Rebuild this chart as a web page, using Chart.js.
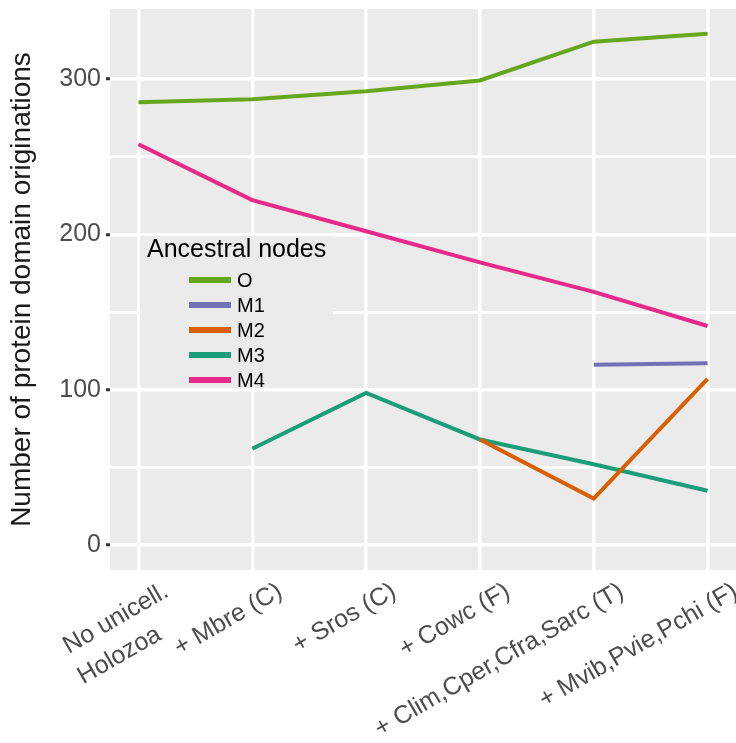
<!DOCTYPE html>
<html>
<head>
<meta charset="utf-8">
<script src="https://cdn.jsdelivr.net/npm/chart.js@4"></script>
<style>
  html, body { margin: 0; padding: 0; background: #fff; }
  canvas { display: block; }
</style>
</head>
<body>
<canvas id="chart" width="736" height="743"></canvas>
<script>
const categories = [['No unicell.', 'Holozoa    '], '+ Mbre (C)', '+ Sros (C)', '+ Cowc (F)', '+ Clim,Cper,Cfra,Sarc (T)', '+ Mvib,Pvie,Pchi (F)'];
const valuesO  = [285, 287, 292, 299, 324, 329];
const valuesM1 = [null, null, null, null, 116, 117];
const valuesM2 = [null, null, null, 68, 30, 107];
const valuesM3 = [null, 62, 98, 68, 52, 35];
const valuesM4 = [258, 222, 202, 182, 163, 141];
const yTicks = [0, 50, 100, 150, 200, 250, 300];
const yMajor = [0, 100, 200, 300];

const FONT = '"Liberation Sans", Arial, sans-serif';

function series(values) {
    return values.map((v, i) => ({ x: i, y: v }));
}

function line(label, values, color, order) {
    return {
        label: label,
        data: series(values),
        borderColor: color,
        backgroundColor: color,
        borderWidth: 4,
        pointRadius: 0,
        fill: false,
        tension: 0,
        order: order
    };
}

// grey ggplot panel
const panelBackground = {
    id: 'panelBackground',
    beforeDraw(chart) {
        const { ctx, chartArea: a } = chart;
        ctx.save();
        ctx.fillStyle = '#ebebeb';
        ctx.fillRect(a.left, a.top, a.right - a.left, a.bottom - a.top);
        ctx.restore();
    }
};

// legend drawn inside the panel
const insideLegend = {
    id: 'insideLegend',
    afterDraw(chart) {
        const ctx = chart.ctx;
        ctx.save();
        ctx.fillStyle = '#ebebeb';
        ctx.fillRect(140, 236, 193, 151);
        ctx.fillStyle = '#000';
        ctx.font = '25px ' + FONT;
        ctx.textBaseline = 'alphabetic';
        ctx.fillText('Ancestral nodes', 147, 257);
        ctx.font = '20px ' + FONT;
        ctx.textBaseline = 'middle';
        chart.data.datasets.forEach((ds, i) => {
            const y = 280 + i * 25;
            ctx.strokeStyle = ds.borderColor;
            ctx.lineWidth = 6;
            ctx.beginPath();
            ctx.moveTo(189, y);
            ctx.lineTo(231, y);
            ctx.stroke();
            ctx.fillText(ds.label, 237, y + 1);
        });
        ctx.restore();
    }
};

new Chart(document.getElementById('chart'), {
    type: 'line',
    data: {
        datasets: [
            line('O', valuesO, '#66a61e', 5),
            line('M1', valuesM1, '#7570b3', 4),
            line('M2', valuesM2, '#d95f02', 1),
            line('M3', valuesM3, '#1b9e77', 2),
            line('M4', valuesM4, '#e7298a', 3)
        ]
    },
    options: {
        responsive: false,
        animation: false,
        layout: { padding: { top: 9, right: 0, left: 0, bottom: 0 } },
        plugins: {
            legend: { display: false },
            tooltip: { enabled: false }
        },
        scales: {
            x: {
                type: 'linear',
                min: -0.25,
                max: 5.25,
                afterBuildTicks: s => { s.ticks = categories.map((c, i) => ({ value: i })); },
                afterFit: s => { s.height = 173; s.paddingLeft = 0; s.paddingRight = 0; },
                ticks: {
                    callback: v => categories[v],
                    autoSkip: false,
                    minRotation: 30,
                    maxRotation: 30,
                    padding: 5,
                    labelOffset: 28,
                    color: '#4d4d4d',
                    font: { family: FONT, size: 25, lineHeight: 1.35 }
                },
                grid: { color: '#ffffff', lineWidth: 3.5, drawTicks: false },
                border: { display: false }
            },
            y: {
                min: -16,
                max: 345,
                afterBuildTicks: s => { s.ticks = yTicks.map(v => ({ value: v })); },
                afterFit: s => { s.width = 110; s.paddingTop = 0; s.paddingBottom = 0; },
                ticks: {
                    callback: v => yMajor.includes(v) ? String(v) : '',
                    padding: 5,
                    color: '#4d4d4d',
                    font: { family: FONT, size: 25 }
                },
                grid: {
                    color: '#ffffff',
                    lineWidth: c => yMajor.includes(c.tick.value) ? 3.5 : 3,
                    tickLength: 4,
                    tickWidth: 3,
                    tickColor: c => yMajor.includes(c.tick.value) ? '#333333' : 'rgba(0,0,0,0)'
                },
                border: { display: false },
                title: {
                    display: true,
                    text: 'Number of protein domain originations',
                    color: '#1a1a1a',
                    font: { family: FONT, size: 28 },
                    padding: { top: 5, bottom: 0 }
                }
            }
        }
    },
    plugins: [panelBackground, insideLegend]
});
</script>
</body>
</html>
